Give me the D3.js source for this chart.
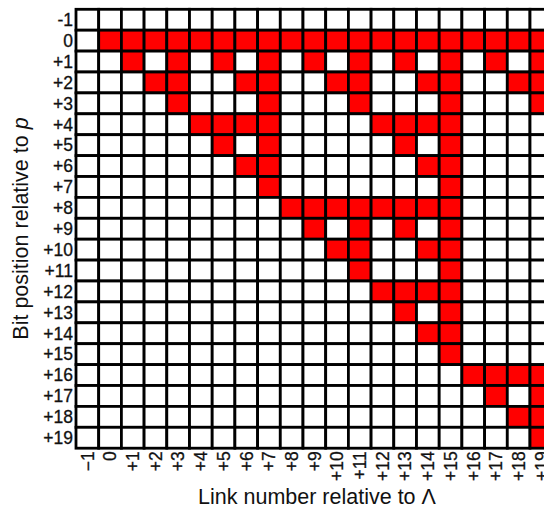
<!DOCTYPE html>
<html>
<head>
<meta charset="utf-8">
<script src="https://cdn.jsdelivr.net/npm/d3@7"></script>
<style>
  html, body { margin: 0; padding: 0; background: #fff; }
  svg { display: block; overflow: hidden; }
  text { font-family: "Liberation Sans", Arial, Helvetica, sans-serif; fill: #111; }
</style>
</head>
<body>
<svg id="chart" width="544" height="508"></svg>
<script>
// Rows: bit position relative to p
const bitPositions = [-1, 0, 1, 2, 3, 4, 5, 6, 7, 8, 9, 10, 11, 12, 13, 14, 15, 16, 17, 18, 19];
// Columns: link number relative to Lambda
const linkNumbers = [-1, 0, 1, 2, 3, 4, 5, 6, 7, 8, 9, 10, 11, 12, 13, 14, 15, 16, 17, 18, 19];
// Tick labels
const yTickLabels = ["-1", "0", "+1", "+2", "+3", "+4", "+5", "+6", "+7", "+8", "+9", "+10", "+11", "+12", "+13", "+14", "+15", "+16", "+17", "+18", "+19"];
const xTickLabels = ["\u22121", "0", "+1", "+2", "+3", "+4", "+5", "+6", "+7", "+8", "+9", "+10", "+11", "+12", "+13", "+14", "+15", "+16", "+17", "+18", "+19"];
// Red (set) cells: for each bit position (same order as bitPositions), the link numbers that are set
const redLinks = [
  [],                                                          // -1
  [0, 1, 2, 3, 4, 5, 6, 7, 8, 9, 10, 11, 12, 13, 14, 15, 16, 17, 18, 19], // 0
  [1, 3, 5, 7, 9, 11, 13, 15, 17, 19],                         // +1
  [2, 3, 6, 7, 10, 11, 14, 15, 18, 19],                        // +2
  [3, 7, 11, 15, 19],                                          // +3
  [4, 5, 6, 7, 12, 13, 14, 15],                                // +4
  [5, 7, 13, 15],                                              // +5
  [6, 7, 14, 15],                                              // +6
  [7, 15],                                                     // +7
  [8, 9, 10, 11, 12, 13, 14, 15],                              // +8
  [9, 11, 13, 15],                                             // +9
  [10, 11, 14, 15],                                            // +10
  [11, 15],                                                    // +11
  [12, 13, 14, 15],                                            // +12
  [13, 15],                                                    // +13
  [14, 15],                                                    // +14
  [15],                                                        // +15
  [16, 17, 18, 19],                                            // +16
  [17, 19],                                                    // +17
  [18, 19],                                                    // +18
  [19]                                                         // +19
];

const svg = d3.select("#chart");
const gridLeft = 76, gridTop = 9.3, colW = 22.7, rowH = 20.9;

const x = d3.scaleBand().domain(linkNumbers).range([gridLeft, gridLeft + colW * linkNumbers.length]).padding(0);
const y = d3.scaleBand().domain(bitPositions).range([gridTop, gridTop + rowH * bitPositions.length]).padding(0);

const cells = [];
bitPositions.forEach((b, i) => {
  const set = new Set(redLinks[i]);
  linkNumbers.forEach(l => cells.push({ b, l, on: set.has(l) }));
});

svg.append("g").selectAll("rect").data(cells).join("rect")
  .attr("x", d => x(d.l))
  .attr("y", d => y(d.b))
  .attr("width", x.bandwidth())
  .attr("height", y.bandwidth())
  .attr("fill", d => d.on ? "#ff0000" : "#ffffff")
  .attr("stroke", "#000")
  .attr("stroke-width", 2.8);

// Y axis
const yAxis = d3.axisLeft(y).tickSize(0).tickPadding(0)
  .tickFormat((d, i) => yTickLabels[i]);
const yg = svg.append("g").attr("transform", `translate(${gridLeft - 3},0)`).call(yAxis);
yg.select(".domain").remove();
yg.attr("font-family", null).attr("font-size", null);
yg.selectAll("text").attr("font-size", 17.5).attr("fill", "#111")
  .attr("stroke", "#111").attr("stroke-width", 0.3).attr("dy", "0.36em");

// X axis
const xAxis = d3.axisBottom(x).tickSize(0).tickPadding(0)
  .tickFormat((d, i) => xTickLabels[i]);
const xg = svg.append("g").attr("transform", `translate(0,${gridTop + rowH * bitPositions.length + 3})`).call(xAxis);
xg.select(".domain").remove();
xg.attr("font-family", null).attr("font-size", null);
xg.selectAll("text")
  .attr("font-size", 17.5).attr("fill", "#111")
  .attr("stroke", "#111").attr("stroke-width", 0.3)
  .attr("y", 0).attr("x", 0).attr("dy", "0.36em")
  .attr("text-anchor", "end")
  .attr("transform", "rotate(-90)");

// Axis titles
svg.append("text")
  .attr("x", 317).attr("y", 503.5)
  .attr("text-anchor", "middle")
  .attr("font-size", 21.5)
  .text("Link number relative to \u039B");

const yt = svg.append("text")
  .attr("transform", "translate(28,228.5) rotate(-90)")
  .attr("text-anchor", "middle")
  .attr("font-size", 21.5);
yt.append("tspan").text("Bit position relative to ");
yt.append("tspan").attr("font-style", "italic").text("p");
</script>
</body>
</html>
